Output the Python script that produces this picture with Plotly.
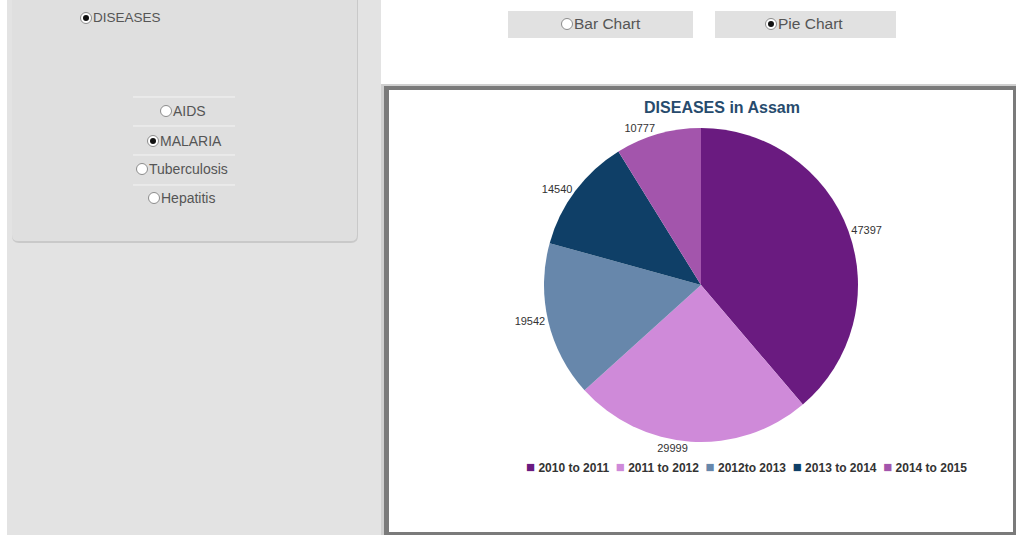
import plotly.graph_objects as go

# ---- data ----
periods = ["2010 to 2011", "2011 to 2012", "2012to 2013", "2013 to 2014", "2014 to 2015"]
malaria_cases = [47397, 29999, 19542, 14540, 10777]
slice_colors = ["#6a1b80", "#cf8ad9", "#6787ab", "#0f3f67", "#a355ac"]
chart_title = "DISEASES in Assam"
disease_options = ["AIDS", "MALARIA", "Tuberculosis", "Hepatitis"]
selected_disease = "MALARIA"
chart_types = ["Bar Chart", "Pie Chart"]
selected_chart = "Pie Chart"

W, H = 1016, 535
FONT = "Liberation Sans, Arial"


def px(x):
    return x / W


def py(y):
    return 1 - y / H


shapes = []
annotations = []

# left panel background
shapes.append(dict(type="rect", xref="paper", yref="paper", x0=px(7), x1=px(381), y0=py(535), y1=py(0),
                   fillcolor="#e3e3e3", line=dict(width=0), layer="below"))
# card shadow + card
shapes.append(dict(type="path", xref="paper", yref="paper",
                   path=f"M {px(12)} {py(0)} L {px(12)} {py(236)} Q {px(12)} {py(243)} {px(19)} {py(243)} "
                        f"L {px(351)} {py(243)} Q {px(358)} {py(243)} {px(358)} {py(236)} L {px(358)} {py(0)} Z",
                   fillcolor="#c9c9c9", line=dict(width=0), layer="below"))
shapes.append(dict(type="path", xref="paper", yref="paper",
                   path=f"M {px(12)} {py(0)} L {px(12)} {py(235)} Q {px(12)} {py(241)} {px(18)} {py(241)} "
                        f"L {px(351)} {py(241)} Q {px(357)} {py(241)} {px(357)} {py(235)} L {px(357)} {py(0)} Z",
                   fillcolor="#dfdfdf", line=dict(width=0), layer="below"))

# chart container borders
shapes.append(dict(type="rect", xref="paper", yref="paper", x0=px(381), x1=px(1016), y0=py(535), y1=py(84),
                   fillcolor="#cfcfcf", line=dict(width=0), layer="below"))
shapes.append(dict(type="rect", xref="paper", yref="paper", x0=px(384), x1=px(1016), y0=py(535), y1=py(86),
                   fillcolor="#7a7a7a", line=dict(width=0), layer="below"))
shapes.append(dict(type="rect", xref="paper", yref="paper", x0=px(389), x1=px(1013), y0=py(532), y1=py(90),
                   fillcolor="#ffffff", line=dict(width=0), layer="below"))

# buttons
for (x0, x1) in [(508, 693), (715, 896)]:
    shapes.append(dict(type="rect", xref="paper", yref="paper", x0=px(x0), x1=px(x1), y0=py(38), y1=py(11),
                       fillcolor="#e1e1e1", line=dict(width=0), layer="below"))

# separator lines in the card
for yy in [97, 126, 155, 185]:
    shapes.append(dict(type="line", xref="paper", yref="paper", x0=px(133), x1=px(235), y0=py(yy), y1=py(yy),
                       line=dict(color="#f4f4f4", width=1), layer="below"))


def radio(cx, cy, label, checked, size=13):
    r = 5.5
    shapes.append(dict(type="circle", xref="paper", yref="paper", x0=px(cx - r), x1=px(cx + r),
                       y0=py(cy + r), y1=py(cy - r), fillcolor="#ffffff",
                       line=dict(color="#8c8c8c", width=1), layer="above"))
    if checked:
        shapes.append(dict(type="circle", xref="paper", yref="paper", x0=px(cx - 3), x1=px(cx + 3),
                           y0=py(cy + 3), y1=py(cy - 3), fillcolor="#111111",
                           line=dict(width=0), layer="above"))
    annotations.append(dict(text=label, xref="paper", yref="paper", x=px(cx + r - 1), y=py(cy),
                            xanchor="left", yanchor="middle", showarrow=False,
                            font=dict(family=FONT, size=size, color="#555555")))


radio(86, 18, "DISEASES", True, size=13.5)
radio_pos = {"AIDS": (166, 111), "MALARIA": (153, 141), "Tuberculosis": (142, 169), "Hepatitis": (154, 198)}
for name in disease_options:
    cx, cy = radio_pos[name]
    radio(cx, cy, name, name == selected_disease, size=14)
btn_pos = {"Bar Chart": (567, 24), "Pie Chart": (771, 24)}
for name in chart_types:
    cx, cy = btn_pos[name]
    radio(cx, cy, name, name == selected_chart, size=15.5)

# legend (built from the category and colour lists)
legend_text = "&nbsp;&nbsp;".join(
    f"<span style='color:{c};font-size:15px'>■</span>&nbsp;{lab}" for lab, c in zip(periods, slice_colors)
)
annotations.append(dict(text=legend_text, xref="paper", yref="paper", x=px(746), y=py(466),
                        xanchor="center", yanchor="middle", showarrow=False,
                        font=dict(family=FONT, size=12, color="#333333", weight="bold")))

fig = go.Figure()
fig.add_trace(go.Pie(
    labels=periods,
    values=malaria_cases,
    sort=False,
    direction="clockwise",
    rotation=0,
    marker=dict(colors=slice_colors, line=dict(width=0)),
    texttemplate="%{value:d}",
    textposition="outside",
    outsidetextfont=dict(family=FONT, size=11, color="#333333"),
    domain=dict(x=[px(544), px(858)], y=[py(442), py(128)]),
    hoverinfo="label+value",
))

fig.update_layout(
    width=W, height=H,
    margin=dict(l=0, r=0, t=0, b=0),
    paper_bgcolor="#ffffff",
    plot_bgcolor="#ffffff",
    title=dict(text=chart_title, x=px(722), y=py(107), xanchor="center", yanchor="middle",
               font=dict(family=FONT, size=16, color="#274b6d", weight="bold")),
    showlegend=False,
    shapes=shapes,
    annotations=annotations,
)

fig.write_html("out.html", config={"displayModeBar": False},
               post_script="document.body.style.margin='0';")
